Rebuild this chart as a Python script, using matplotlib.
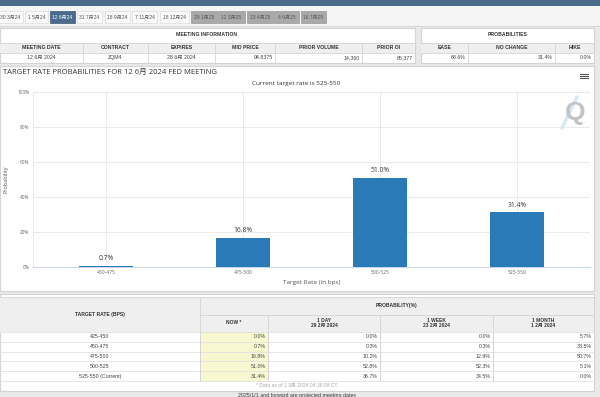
import matplotlib
matplotlib.use('Agg')
import matplotlib.pyplot as plt
from matplotlib.patches import Rectangle

plt.rcParams['font.family'] = ['Liberation Sans', 'Noto Sans CJK SC', 'DejaVu Sans']

# ---------------- data ----------------
tab_labels = ['30 3月24', '1 5月24', '12 6月24', '31 7月24', '18 9月24', '7 11月24',
              '18 12月24', '29 1月25', '12 3月25', '23 4月25', '4 6月25', '16 7月25']
selected_tab = 2
future_from = 7

info_headers = ['MEETING DATE', 'CONTRACT', 'EXPIRES', 'MID PRICE', 'PRIOR VOLUME', 'PRIOR OI']
info_values = ['12 6月 2024', 'ZQM4', '28 6月 2024', '94.8375', '14,360', '65,377']
prob_headers = ['EASE', 'NO CHANGE', 'HIKE']
prob_values = ['68.6%', '31.4%', '0.0%']

chart_title = 'TARGET RATE PROBABILITIES FOR 12 6月 2024 FED MEETING'
chart_subtitle = 'Current target rate is 525-550'
categories = ['450-475', '475-500', '500-525', '525-550']
probabilities = [0.7, 16.8, 51.0, 31.4]
y_ticks = [0, 20, 40, 60, 80, 100]

table_rates = ['425-450', '450-475', '475-500', '500-525', '525-550 (Current)']
col_titles = ['NOW *', '1 DAY\n29 2月 2024', '1 WEEK\n23 2月 2024', '1 MONTH\n1 2月 2024']
now_vals = [0.0, 0.7, 16.8, 51.0, 31.4]
day_vals = [0.0, 0.3, 10.2, 52.8, 36.7]
week_vals = [0.0, 0.3, 12.9, 52.3, 34.5]
month_vals = [5.7, 38.5, 50.7, 5.1, 0.0]
footnote = '* Data as of 1 3月 2024 04:36:08 CT'
bottom_note = '2025/1/1 and forward are projected meeting dates'

# ---------------- figure ----------------
W, H = 600, 397
fig = plt.figure(figsize=(6, 3.97), dpi=100)
fig.patch.set_facecolor('#e9e9e9')
bg = fig.add_axes([0, 0, 1, 1])
bg.set_xlim(0, W)
bg.set_ylim(H, 0)
bg.axis('off')

BORDER = '#d4d4d4'
HEAD_BG = '#efefef'
TXT = '#333333'


def rect(x0, y0, x1, y1, fc, ec='none', lw=0.6, z=1):
    bg.add_patch(Rectangle((x0, y0), x1 - x0, y1 - y0, facecolor=fc,
                           edgecolor=ec, linewidth=lw, zorder=z))


def txt(x, y, s, size=3.8, ha='center', color=TXT, weight='normal', **kw):
    bg.text(x, y, s, fontsize=size, ha=ha, va='center', color=color,
            fontweight=weight, zorder=5, **kw)


# top bar and tabs
rect(0, 0, W, 6, '#4b6b8c')
rect(0, 6, W, 25.5, '#f5f5f5')
bg.plot([0, W], [25.5, 25.5], color=BORDER, lw=0.6, zorder=2)
tab_x = [(-3, 23), (25, 48), (50, 75), (77, 102), (105, 130), (132, 157),
         (160, 189), (191, 217), (218, 245), (247, 273), (274, 299), (301, 326)]
for i, (lab, (x0, x1)) in enumerate(zip(tab_labels, tab_x)):
    if i == selected_tab:
        fc, tc, ec = '#4a6b8d', 'white', '#3d5a78'
    elif i >= future_from:
        fc, tc, ec = '#a9a9a9', '#555555', '#999999'
    else:
        fc, tc, ec = '#fafafa', '#555555', '#dddddd'
    rect(x0, 11, x1, 23, fc, ec, 0.5, z=2)
    txt((x0 + x1) / 2, 17.2, lab, size=3.6, color=tc)

# meeting information table
rect(0, 27.5, 415, 63, 'white', BORDER, 0.8)
rect(0, 42.5, 415, 52.5, HEAD_BG)
txt(207, 34, 'MEETING INFORMATION', weight='bold', size=3.7)
info_cols = [0, 83, 148, 215, 275, 362, 415]
for j, h in enumerate(info_headers):
    x0, x1 = info_cols[j], info_cols[j + 1]
    txt((x0 + x1) / 2, 47.8, h, weight='bold', size=3.7)
    if j in (0, 1, 2):
        txt((x0 + x1) / 2, 57.5, info_values[j], size=3.8, color='#444')
    else:
        txt(x1 - 2, 57.5, info_values[j], ha='right', size=3.8, color='#444')
    if j > 0:
        bg.plot([x0, x0], [42.5, 63], color=BORDER, lw=0.6, zorder=3)
for yy in (42.5, 52.5):
    bg.plot([0, 415], [yy, yy], color=BORDER, lw=0.6, zorder=3)

# probabilities table
rect(421, 27.5, 594, 63, 'white', BORDER, 0.8)
rect(421, 42.5, 594, 52.5, HEAD_BG)
txt(507.5, 34, 'PROBABILITIES', weight='bold', size=3.7)
prob_cols = [421, 468, 555, 594]
for j, h in enumerate(prob_headers):
    x0, x1 = prob_cols[j], prob_cols[j + 1]
    txt((x0 + x1) / 2, 47.8, h, weight='bold', size=3.7)
    txt(x1 - 2, 57.5, prob_values[j], ha='right', size=3.8, color='#444')
    if j > 0:
        bg.plot([x0, x0], [42.5, 63], color=BORDER, lw=0.6, zorder=3)
for yy in (42.5, 52.5):
    bg.plot([421, 594], [yy, yy], color=BORDER, lw=0.6, zorder=3)

# chart panel
rect(0, 66, 594, 291, 'white', BORDER, 0.8)
bg.text(3, 72.5, chart_title, fontsize=5.5, ha='left', va='center', color='#333333',
        family=['Open Sans', 'Noto Sans CJK SC'], zorder=5)
bg.text(296, 83, chart_subtitle, fontsize=4.6, ha='center', va='center', color='#333333',
        family=['Open Sans', 'DejaVu Sans'], zorder=5)
for k in range(3):
    bg.plot([580, 588], [74.3 + k * 1.8, 74.3 + k * 1.8], color='#555555', lw=0.8, zorder=5)
# watermark
bg.plot([562, 577], [128, 97], color='#d5eaf8', lw=2.5, zorder=2, solid_capstyle='round')
bg.text(575, 113, 'Q', fontsize=19, ha='center', va='center', color='#c4c4c4',
        fontweight='bold', zorder=3)

# chart axes
left, right, top, bottom = 33, 590, 92, 267
ax = fig.add_axes([left / W, (H - bottom) / H, (right - left) / W, (bottom - top) / H])
ax.patch.set_alpha(0)
x = list(range(len(categories)))
bars = ax.bar(x, probabilities, width=0.4, color='#2a7ab8', linewidth=0, zorder=3)
for xi, v in zip(x, probabilities):
    ax.annotate(f'{v:.1f}%', (xi, v), xytext=(0, 2.5), textcoords='offset points',
                ha='center', va='bottom', fontsize=4.9, color='#333333',
                family=['Open Sans', 'DejaVu Sans'])
ax.set_xlim(-0.533, 3.533)
ax.set_ylim(0, 100)
ax.set_xticks(x)
ax.set_xticklabels(categories, fontsize=3.6, color='#666666', family=['Open Sans', 'DejaVu Sans'])
ax.set_yticks(y_ticks)
ax.set_yticklabels([f'{t}%' for t in y_ticks], fontsize=3.4, color='#666666',
                   family=['Open Sans', 'DejaVu Sans'])
ax.tick_params(length=0, pad=2.5)
ax.grid(True, color='#e6e6e6', lw=0.6, zorder=0)
for s in ('top', 'right'):
    ax.spines[s].set_visible(False)
ax.spines['left'].set_color('#e6e6e6')
ax.spines['left'].set_linewidth(0.6)
ax.spines['bottom'].set_color('#ccd6eb')
ax.spines['bottom'].set_linewidth(0.8)
ax.set_xlabel('Target Rate (in bps)', fontsize=4.6, color='#555555', labelpad=3,
              family=['Open Sans', 'DejaVu Sans'])
ax.set_ylabel('Probability', fontsize=4.0, color='#555555', labelpad=6,
              family=['Open Sans', 'DejaVu Sans'])

# bottom probability table
rect(0, 294, 594, 391, 'white', BORDER, 0.8)
rect(0, 297, 594, 332, HEAD_BG)
bg.plot([0, 594], [297, 297], color=BORDER, lw=0.6, zorder=3)
cols = [0, 200, 268, 380, 493, 594]
txt(100, 314.5, 'TARGET RATE (BPS)', weight='bold', size=3.6)
txt(397, 306, 'PROBABILITY(%)', weight='bold', size=3.6)
bg.plot([200, 594], [315, 315], color=BORDER, lw=0.6, zorder=3)
for j, t in enumerate(col_titles):
    x0, x1 = cols[j + 1], cols[j + 2]
    txt((x0 + x1) / 2, 323, t, weight='bold', size=3.5, linespacing=1.1)
for c in cols[1:-1]:
    bg.plot([c, c], [297 if c == 200 else 315, 381], color=BORDER, lw=0.6, zorder=3)
row_y = [332, 341.8, 351.6, 361.4, 371.2, 381]
rect(200, 332, 268, 381, '#f8f8d0')
for i, rate in enumerate(table_rates):
    yc = (row_y[i] + row_y[i + 1]) / 2
    txt(100, yc, rate, size=3.8, color='#444')
    for j, vals in enumerate([now_vals, day_vals, week_vals, month_vals]):
        txt(cols[j + 2] - 2, yc, f'{vals[i]:.1f}%', ha='right', size=3.8, color='#444')
for yy in row_y:
    bg.plot([0, 594], [yy, yy], color='#e2e2e2', lw=0.6, zorder=3)
for c in cols[1:-1]:
    bg.plot([c, c], [332, 381], color=BORDER, lw=0.6, zorder=4)
txt(297, 385.5, footnote, size=3.6, color='#aaaaaa')
txt(297, 395.5, bottom_note, size=3.8, color='#333333')

fig.savefig('out.png', dpi=100, facecolor=fig.get_facecolor())
